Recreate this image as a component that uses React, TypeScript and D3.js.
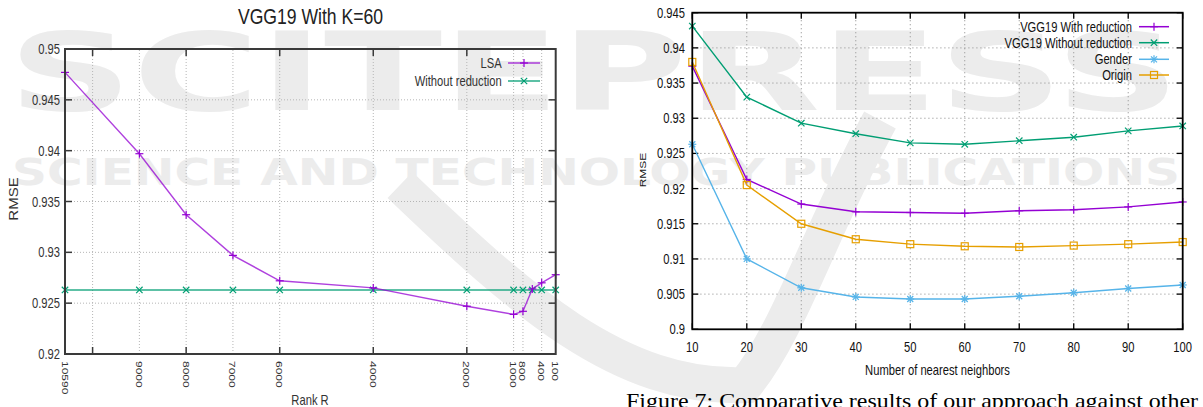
import React from 'react';
import * as d3 from 'd3';

const W = 1203;
const H = 407;

// ---------- Left chart: VGG19 With K=60 ----------
const rankValues = [10590, 9000, 8000, 7000, 6000, 4000, 2000, 1000, 800, 600, 400, 100];
const lsaRmse = [0.9477, 0.9397, 0.9337, 0.9297, 0.9272, 0.9265, 0.9247, 0.9239, 0.9242, 0.9264, 0.927, 0.9278];
const noReductionRmse = [0.9263, 0.9263, 0.9263, 0.9263, 0.9263, 0.9263, 0.9263, 0.9263, 0.9263, 0.9263, 0.9263, 0.9263];
const rankTickLabels = [10590, 9000, 8000, 7000, 6000, 4000, 2000, 1000, 800, 400, 100];
const rankMajorTicks = [10000, 8000, 6000, 4000, 2000];
const leftYTicks = [0.92, 0.925, 0.93, 0.935, 0.94, 0.945, 0.95];

// ---------- Right chart: nearest neighbors ----------
const neighbors = [10, 20, 30, 40, 50, 60, 70, 80, 90, 100];
const vggWithReduction = [0.9374, 0.9213, 0.9178, 0.9167, 0.9166, 0.9165, 0.91685, 0.917, 0.9174, 0.9181];
const vggWithoutReduction = [0.9431, 0.933, 0.9293, 0.9278, 0.9265, 0.9263, 0.9268, 0.9273, 0.9282, 0.9289];
const genderRmse = [0.9263, 0.91, 0.9059, 0.9046, 0.9043, 0.9043, 0.9047, 0.9052, 0.9058, 0.9063];
const originRmse = [0.938, 0.9205, 0.915, 0.9128, 0.9121, 0.9118, 0.9117, 0.9119, 0.9121, 0.9124];
const rightYTicks = [0.9, 0.905, 0.91, 0.915, 0.92, 0.925, 0.93, 0.935, 0.94, 0.945];

const PURPLE = '#9400d3';
const GREEN = '#009e73';
const BLUE = '#56b4e9';
const ORANGE = '#e69f00';
const FONT = '"Liberation Sans", Arial, sans-serif';
const SX = 0.8;

type MarkerType = 'plus' | 'cross' | 'star' | 'square';

function Marker({ type, x, y, color, s = 4, w = 1.2 }: { type: MarkerType; x: number; y: number; color: string; s?: number; w?: number }) {
  if (type === 'plus') {
    return (
      <g stroke={color} strokeWidth={w}>
        <line x1={x - s} x2={x + s} y1={y} y2={y} />
        <line x1={x} x2={x} y1={y - s} y2={y + s} />
      </g>
    );
  }
  if (type === 'cross') {
    const c = s * 0.8;
    return (
      <g stroke={color} strokeWidth={w}>
        <line x1={x - c} x2={x + c} y1={y - c} y2={y + c} />
        <line x1={x - c} x2={x + c} y1={y + c} y2={y - c} />
      </g>
    );
  }
  if (type === 'star') {
    const c = s * 0.75;
    return (
      <g stroke={color} strokeWidth={w}>
        <line x1={x - s} x2={x + s} y1={y} y2={y} />
        <line x1={x} x2={x} y1={y - s} y2={y + s} />
        <line x1={x - c} x2={x + c} y1={y - c} y2={y + c} />
        <line x1={x - c} x2={x + c} y1={y + c} y2={y - c} />
      </g>
    );
  }
  return <rect x={x - s} y={y - s} width={2 * s} height={2 * s} fill="none" stroke={color} strokeWidth={w} />;
}

function T({ x, y, size, anchor = 'middle', rot = 0, fill = '#222', children, sx = SX }: any) {
  return (
    <text
      transform={`translate(${x},${y}) scale(${sx},1) rotate(${rot})`}
      fontSize={size}
      fontFamily={FONT}
      textAnchor={anchor}
      fill={fill}
    >
      {children}
    </text>
  );
}

const fmt = (v: number) => String(+v.toFixed(3));

function LeftChart() {
  const x = d3.scaleLinear().domain([10590, 100]).range([65, 555.7]);
  const y = d3.scaleLinear().domain([0.92, 0.95]).range([354, 49]);
  const [x0, x1] = x.range();
  const [y0, y1] = y.range();
  const line = d3.line<number>().x((_, i) => x(rankValues[i])).y((d) => y(d));
  const gridX = Array.from(new Set([...rankTickLabels, ...rankMajorTicks])).filter((v) => v !== 10590 && v !== 100);
  const axisCol = '#3a3a3a';
  return (
    <g>
      <g stroke="#b5b5b5" strokeWidth={1} strokeDasharray="1,2">
        {leftYTicks.slice(1, -1).map((t) => (
          <line key={'gy' + t} x1={x0} x2={x1} y1={y(t)} y2={y(t)} />
        ))}
        {gridX.map((t) => (
          <line key={'gx' + t} x1={x(t)} x2={x(t)} y1={y0} y2={y1} />
        ))}
      </g>
      <g stroke={axisCol} strokeWidth={1.5}>
        {leftYTicks.map((t) => (
          <g key={'ty' + t}>
            <line x1={x0} x2={x0 + 7} y1={y(t)} y2={y(t)} />
            <line x1={x1} x2={x1 - 7} y1={y(t)} y2={y(t)} />
          </g>
        ))}
        {rankMajorTicks.map((t) => (
          <g key={'tx' + t}>
            <line x1={x(t)} x2={x(t)} y1={y0} y2={y0 - 7} />
            <line x1={x(t)} x2={x(t)} y1={y1} y2={y1 + 7} />
          </g>
        ))}
      </g>
      <path d={line(noReductionRmse) || ''} fill="none" stroke={GREEN} strokeWidth={1.6} opacity={0.85} />
      {rankValues.map((r, i) => (
        <Marker key={'g' + r} type="cross" x={x(r)} y={y(noReductionRmse[i])} color={GREEN} s={4} />
      ))}
      <path d={line(lsaRmse) || ''} fill="none" stroke={PURPLE} strokeWidth={1.4} opacity={0.75} />
      {rankValues.map((r, i) => (
        <Marker key={'p' + r} type="plus" x={x(r)} y={y(lsaRmse[i])} color={PURPLE} s={4} />
      ))}
      <rect x={x0} y={y1} width={x1 - x0} height={y0 - y1} fill="none" stroke={axisCol} strokeWidth={2} />
      {leftYTicks.map((t) => (
        <T key={'ly' + t} x={60} y={y(t) + 5} size={14} anchor="end" fill="#333">
          {fmt(t)}
        </T>
      ))}
      {rankTickLabels.map((t) => (
        <text
          key={'lx' + t}
          transform={`translate(${x(t)},361) scale(${SX},1) rotate(90)`}
          fontSize={12}
          fontFamily={FONT}
          dy="0.36em"
          fill="#333"
        >
          {t}
        </text>
      ))}
      <T x={501.7} y={68} size={14} anchor="end" fill="#333">LSA</T>
      <line x1={508} x2={540} y1={63} y2={63} stroke={PURPLE} strokeWidth={1.5} opacity={0.75} />
      <Marker type="plus" x={524} y={63} color={PURPLE} s={4} />
      <T x={501.7} y={86} size={14} anchor="end" fill="#333">Without reduction</T>
      <line x1={508} x2={540} y1={81} y2={81} stroke={GREEN} strokeWidth={1.5} opacity={0.85} />
      <Marker type="cross" x={524} y={81} color={GREEN} s={4} />
      <T x={310.5} y={24} size={22} fill="#222">VGG19 With K=60</T>
      <T x={310} y={405} size={14} fill="#333">Rank R</T>
      <text
        transform={`translate(14,199) scale(${SX},1) rotate(-90)`}
        fontSize={15}
        fontFamily={FONT}
        textAnchor="middle"
        dy="0.36em"
        fill="#333"
      >
        RMSE
      </text>
    </g>
  );
}

function RightChart() {
  const x = d3.scaleLinear().domain([10, 100]).range([692.3, 1182.7]);
  const y = d3.scaleLinear().domain([0.9, 0.945]).range([329.3, 12.7]);
  const [x0, x1] = x.range();
  const [y0, y1] = y.range();
  const mk = (vals: number[]) => d3.line<number>().x((_, i) => x(neighbors[i])).y((d) => y(d))(vals) || '';
  const series: { name: string; vals: number[]; color: string; m: MarkerType }[] = [
    { name: 'VGG19 With reduction', vals: vggWithReduction, color: PURPLE, m: 'plus' },
    { name: 'VGG19 Without reduction', vals: vggWithoutReduction, color: GREEN, m: 'cross' },
    { name: 'Gender', vals: genderRmse, color: BLUE, m: 'star' },
    { name: 'Origin', vals: originRmse, color: ORANGE, m: 'square' },
  ];
  const legendY = [26.7, 42.7, 59.3, 75];
  return (
    <g>
      <g stroke="#9a9a9a" strokeWidth={1} strokeDasharray="1.2,2.8">
        {rightYTicks.slice(1, -1).map((t) => (
          <line key={'gy' + t} x1={x0} x2={x1} y1={y(t)} y2={y(t)} />
        ))}
        {neighbors.slice(1, -1).map((t) => (
          <line key={'gx' + t} x1={x(t)} x2={x(t)} y1={y0} y2={y1} />
        ))}
      </g>
      <g stroke="#000" strokeWidth={1.3}>
        {rightYTicks.map((t) => (
          <g key={'ty' + t}>
            <line x1={x0} x2={x0 + 6} y1={y(t)} y2={y(t)} />
            <line x1={x1} x2={x1 - 6} y1={y(t)} y2={y(t)} />
          </g>
        ))}
        {neighbors.map((t) => (
          <g key={'tx' + t}>
            <line x1={x(t)} x2={x(t)} y1={y0} y2={y0 - 6} />
            <line x1={x(t)} x2={x(t)} y1={y1} y2={y1 + 6} />
          </g>
        ))}
      </g>
      {series.map((s) => (
        <g key={s.name}>
          <path d={mk(s.vals)} fill="none" stroke={s.color} strokeWidth={1.4} />
          {s.vals.map((v, i) => (
            <Marker key={i} type={s.m} x={x(neighbors[i])} y={y(v)} color={s.color} s={s.m === 'square' ? 3.5 : 4} />
          ))}
        </g>
      ))}
      <rect x={x0} y={y1} width={x1 - x0} height={y0 - y1} fill="none" stroke="#000" strokeWidth={1.8} />
      {rightYTicks.map((t) => (
        <T key={'ry' + t} x={685} y={y(t) + 5} size={14} anchor="end" fill="#111">
          {fmt(t)}
        </T>
      ))}
      {neighbors.map((t) => (
        <T key={'rx' + t} x={x(t)} y={351.7} size={14} fill="#111">
          {t}
        </T>
      ))}
      {series.map((s, i) => (
        <g key={'lg' + s.name}>
          <T x={1132} y={legendY[i] + 5} size={14} anchor="end" fill="#111">
            {s.name}
          </T>
          <line x1={1139} x2={1169} y1={legendY[i]} y2={legendY[i]} stroke={s.color} strokeWidth={1.5} />
          <Marker type={s.m} x={1154} y={legendY[i]} color={s.color} s={s.m === 'square' ? 3.5 : 4} />
        </g>
      ))}
      <T x={937.5} y={374.5} size={14} fill="#111">Number of nearest neighbors</T>
      <text
        transform={`translate(642.3,170) scale(${SX},1) rotate(-90)`}
        fontSize={12}
        fontFamily={FONT}
        textAnchor="middle"
        dy="0.36em"
        fill="#111"
      >
        RMSE
      </text>
    </g>
  );
}

function Watermark() {
  const c = '#ececec';
  return (
    <g>
      <text x={8} y={110} fontFamily='"DejaVu Sans", sans-serif' fontWeight="bold" fontSize={108} fill={c} textLength={1172} lengthAdjust="spacingAndGlyphs">
        SCITEPRESS
      </text>
      <text x={12} y={185} fontFamily='"DejaVu Sans", sans-serif' fontWeight="bold" fontSize={38} fill={c} textLength={1168} lengthAdjust="spacingAndGlyphs">
        SCIENCE AND TECHNOLOGY PUBLICATIONS
      </text>
      <path d="M 400 185 C 520 300, 620 390, 745 385 C 790 330, 820 230, 880 120" fill="none" stroke={c} strokeWidth={36} />
    </g>
  );
}

export default function App() {
  return (
    <svg width={W} height={H} style={{ position: 'absolute', left: 0, top: 0, background: '#fff' }}>
      <rect width={W} height={H} fill="#fff" />
      <Watermark />
      <LeftChart />
      <RightChart />
      <text x={626} y={408} fontFamily='"Liberation Serif", "Times New Roman", serif' fontSize={21} fill="#000" textLength={572} lengthAdjust="spacingAndGlyphs">
        Figure 7: Comparative results of our approach against other
      </text>
    </svg>
  );
}
